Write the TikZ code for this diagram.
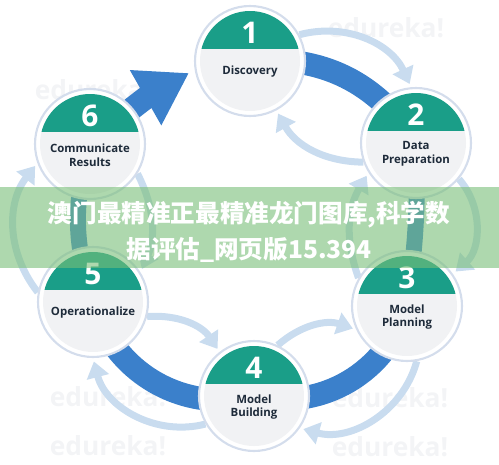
\documentclass[tikz,border=0pt]{standalone}
\usepackage{fontspec}
\setmainfont{Open Sans}
\newfontfamily\cjk{Noto Sans CJK SC}
\usetikzlibrary{arrows.meta,backgrounds,positioning}
\definecolor{stepteal}{HTML}{1A9E88}
\definecolor{bandblue}{HTML}{3B80CB}
\definecolor{paleblue}{HTML}{C9DCEF}
\definecolor{rimblue}{HTML}{D4DDEC}
\definecolor{cardgray}{HTML}{F1F2F4}
\definecolor{labelnavy}{HTML}{1E2B3A}
\definecolor{bannergreen}{HTML}{78BE78}
\definecolor{ghost}{HTML}{F3F4F6}
\tikzset{
  % kretsar
  stage/.style={circle,fill=white,draw=rimblue,line width=1.2pt,minimum size=2.2cm,inner sep=0pt,
    path picture={
      \fill[cardgray] (path picture bounding box.center) circle (1.0cm);
      \begin{scope}
        \clip (path picture bounding box.center) circle (1.0cm);
        \fill[stepteal] ([yshift=0.24cm]path picture bounding box.center) ++(-1.1cm,0) rectangle ++(2.2cm,1.2cm);
      \end{scope}}},
  num/.style={font=\fontsize{17}{17}\selectfont\bfseries,text=white,inner sep=0pt},
  lbl/.style={font=\fontsize{6.5}{7.8}\selectfont\bfseries,text=labelnavy,align=center,inner sep=0pt},
  wm/.style={font=\fontsize{15}{15}\selectfont\bfseries,text=ghost,inner sep=0pt},
  % pilar
  band/.style={draw=bandblue,line width=0.46cm},
  sideband/.style={band,line width=0.32cm},
  pale/.style={draw=paleblue,line width=0.14cm,-{Triangle[length=0.32cm,width=0.44cm]},shorten >=2pt},
  banner/.style={font=\cjk\bfseries\fontsize{14}{14}\selectfont,text=white,inner sep=0pt},
}
\begin{document}
\begin{tikzpicture}[x=0.02cm,y=0.02cm]
  \useasboundingbox (0,0) rectangle (499,464);
  \node[stage] (n1) at (250,403) {};
  \node[stage] (n2) at (416,321) {};
  \node[stage] (n3) at (407,158) {};
  \node[stage] (n4) at (254,68) {};
  \node[stage] (n5) at (93,162) {};
  \node[stage] (n6) at (90,320) {};
  \foreach \s/\txt in {1/Discovery,2/{Data\\Preparation},3/{Model\\Planning},
      4/{Model\\Building},5/Operationalize,6/{Communicate\\Results}} {
    \node[num] (k\s) at ([yshift=0.56cm]n\s.center) {\s};
    \node[lbl] (t\s) at ([yshift=-0.22cm]n\s.center) {\txt};
  }
  \coordinate (tip) at (189,391);
  \begin{scope}[on background layer]
    \foreach \x/\y [count=\w] in {93/374,386/436,108/67,390/66,108/18,390/17}
      \node[wm] (w\w) at (\x,\y) {edureka!};
    \draw[band] (n1.center) to[bend left=31] (n2.center);
    \draw[sideband] (n2.center) to[bend left=5] (n3.center);
    \draw[band] (n3.center) to[bend left=43] (n4.center);
    \draw[band] (n4.center) to[bend left=44] (n5.center);
    \draw[sideband] (n5.center) to[bend left=17] (n6.center);
    \draw[band,-{Triangle[length=1.0cm,width=1.2cm]}] (n6.center) to[bend left=6] (tip);
    % framåt, utanför
    \draw[pale] (n1.28) to[bend left=40] (n2.95);
    \draw[pale] (n2.-40) to[bend left=45] (n3.35);
    \draw[pale] (n3.-80) to[bend left=45] (n4.-35);
    \draw[pale] (n4.-150) to[bend left=45] (n5.-90);
    \draw[pale] (n5.170) to[bend left=38] (n6.-160);
    % bakåt, innanför
    \draw[pale] (n2.200) to[bend left=30] (n1.-62);
    \draw[pale] (n3.150) to[bend left=25] (n2.-148);
    \draw[pale] (n4.65) to[bend left=30] (n3.205);
    \draw[pale] (n5.-15) to[bend left=30] (n4.128);
    \draw[pale] (n6.-32) to[bend left=25] (n5.32);
  \end{scope}
  \fill[bannergreen,fill opacity=0.6] (0,196) rectangle (499,277);
  \node[banner] (b1) at (249,249) {澳门最精准正最精准龙门图库,科学数};
  \node[banner] (b2) at (249,214) {据评估\_网页版15.394};
\end{tikzpicture}
\end{document}
